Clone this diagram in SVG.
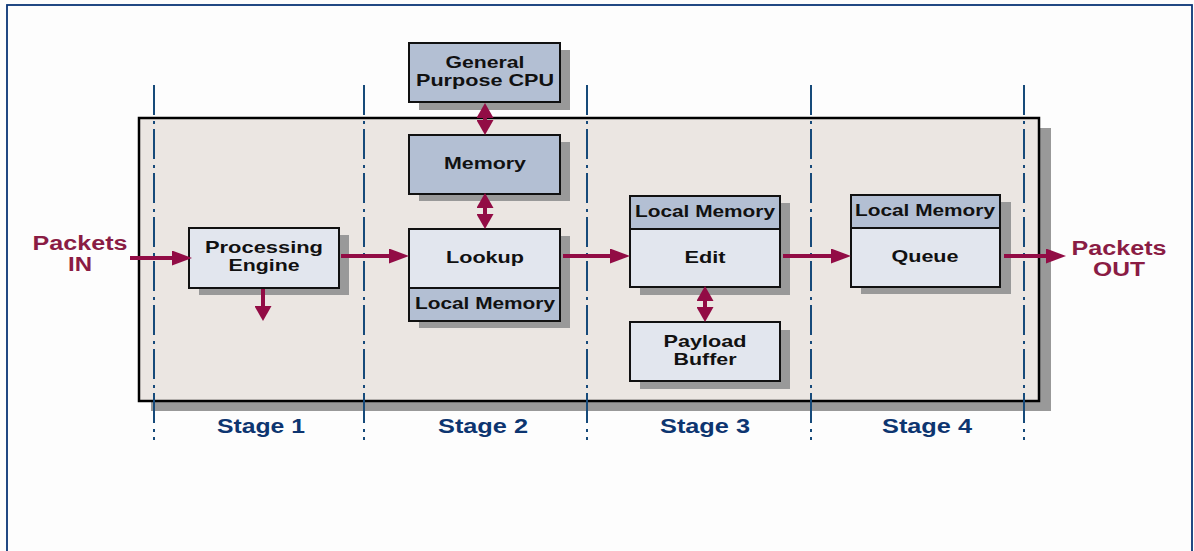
<svg xmlns="http://www.w3.org/2000/svg" width="1194" height="551" viewBox="0 0 1194 551">
<style>
text{font-family:"Liberation Sans",Arial,sans-serif;font-weight:bold;text-anchor:middle}
.t{font-size:17px;fill:#111}
.red{font-size:20px;fill:#8a1c44}
.stage{font-size:20.5px;fill:#0d3570}
.sh{fill:#999}
.lt{fill:#e2e6ee;stroke:#111;stroke-width:2}
.dk{fill:#b3bfd3;stroke:#111;stroke-width:2}
.div{stroke:#164a7a;stroke-width:2;stroke-dasharray:30 6 3 5;fill:none}
.c{stroke:#920c45;stroke-width:4;fill:none}
.h{marker-end:url(#ah)}
.v{marker-end:url(#av)}
.d{marker-start:url(#av);marker-end:url(#av)}
</style>
<defs>
<marker id="ah" viewBox="0 0 20 15" markerWidth="20" markerHeight="15" refX="0" refY="7.5" markerUnits="userSpaceOnUse" orient="auto-start-reverse"><path d="M0,0 L20,7.5 L0,15 z" fill="#920c45"/></marker>
<marker id="av" viewBox="0 0 15 17" markerWidth="15" markerHeight="17" refX="0" refY="8.5" markerUnits="userSpaceOnUse" orient="auto-start-reverse"><path d="M0,0 L15,8.5 L0,17 z" fill="#920c45"/></marker>
</defs>
<rect x="0" y="0" width="1194" height="551" fill="#fdfdfd"/>
<rect x="7" y="5" width="1185" height="570" fill="none" stroke="#0b3677" stroke-width="1.8"/>
<g id="pipeline">
<rect class="sh" x="151" y="128" width="900" height="283"/>
<rect x="139" y="118" width="900" height="283" fill="#ebe6e2" stroke="#000" stroke-width="2.5"/>
</g>
<g id="stage-dividers">
<line class="div" x1="154" y1="85" x2="154" y2="440"/>
<line class="div" x1="364" y1="85" x2="364" y2="440"/>
<line class="div" x1="587" y1="85" x2="587" y2="440"/>
<line class="div" x1="811" y1="85" x2="811" y2="440"/>
<line class="div" x1="1024" y1="85" x2="1024" y2="440"/>
</g>
<g id="stage-labels">
<text class="stage" x="261" y="433" textLength="88" lengthAdjust="spacingAndGlyphs">Stage 1</text>
<text class="stage" x="483" y="433" textLength="90" lengthAdjust="spacingAndGlyphs">Stage 2</text>
<text class="stage" x="705" y="433" textLength="90" lengthAdjust="spacingAndGlyphs">Stage 3</text>
<text class="stage" x="927" y="433" textLength="90" lengthAdjust="spacingAndGlyphs">Stage 4</text>
</g>
<g id="packets-in">
<text class="red" x="80" y="250" textLength="95" lengthAdjust="spacingAndGlyphs">Packets</text>
<text class="red" x="80" y="271" textLength="24" lengthAdjust="spacingAndGlyphs">IN</text>
</g>
<g id="packets-out">
<text class="red" x="1119" y="254.5" textLength="95" lengthAdjust="spacingAndGlyphs">Packets</text>
<text class="red" x="1119" y="275.5" textLength="52" lengthAdjust="spacingAndGlyphs">OUT</text>
</g>
<g id="processing-engine">
<rect class="sh" x="199" y="235" width="150" height="60"/>
<rect class="lt" x="189" y="228" width="150" height="60"/>
<text class="t" x="264" y="253" textLength="118" lengthAdjust="spacingAndGlyphs">Processing</text>
<text class="t" x="264" y="271" textLength="71" lengthAdjust="spacingAndGlyphs">Engine</text>
</g>
<g id="general-purpose-cpu">
<rect class="sh" x="419" y="50" width="151" height="60"/>
<rect class="dk" x="409" y="43" width="151" height="59"/>
<text class="t" x="485" y="68" textLength="79" lengthAdjust="spacingAndGlyphs">General</text>
<text class="t" x="485" y="86" textLength="138" lengthAdjust="spacingAndGlyphs">Purpose CPU</text>
</g>
<g id="memory">
<rect class="sh" x="419" y="142" width="151" height="59"/>
<rect class="dk" x="409" y="135" width="151" height="59"/>
<text class="t" x="485" y="169" textLength="82" lengthAdjust="spacingAndGlyphs">Memory</text>
</g>
<g id="lookup">
<rect class="sh" x="419" y="236" width="151" height="92"/>
<rect class="lt" x="409" y="229" width="151" height="59"/>
<rect class="dk" x="409" y="288" width="151" height="33"/>
<text class="t" x="485" y="262.5" textLength="78" lengthAdjust="spacingAndGlyphs">Lookup</text>
<text class="t" x="485" y="309" textLength="140" lengthAdjust="spacingAndGlyphs">Local Memory</text>
</g>
<g id="edit">
<rect class="sh" x="640" y="203" width="150" height="92"/>
<rect class="dk" x="630" y="196" width="150" height="33"/>
<rect class="lt" x="630" y="229" width="150" height="58"/>
<text class="t" x="705" y="216.5" textLength="140" lengthAdjust="spacingAndGlyphs">Local Memory</text>
<text class="t" x="705" y="262.5" textLength="41" lengthAdjust="spacingAndGlyphs">Edit</text>
</g>
<g id="payload-buffer">
<rect class="sh" x="640" y="330" width="150" height="59"/>
<rect class="lt" x="630" y="322" width="150" height="59"/>
<text class="t" x="705" y="347" textLength="83" lengthAdjust="spacingAndGlyphs">Payload</text>
<text class="t" x="705" y="365" textLength="63" lengthAdjust="spacingAndGlyphs">Buffer</text>
</g>
<g id="queue">
<rect class="sh" x="861" y="202" width="150" height="92"/>
<rect class="dk" x="851" y="195" width="149" height="33"/>
<rect class="lt" x="851" y="228" width="149" height="59"/>
<text class="t" x="925" y="216" textLength="140" lengthAdjust="spacingAndGlyphs">Local Memory</text>
<text class="t" x="925" y="262" textLength="67" lengthAdjust="spacingAndGlyphs">Queue</text>
</g>
<g id="connectors">
<line class="c h" x1="130" y1="258" x2="172" y2="258"/>
<line class="c h" x1="341" y1="256" x2="389" y2="256"/>
<line class="c h" x1="563" y1="256" x2="610" y2="256"/>
<line class="c h" x1="783" y1="256" x2="831" y2="256"/>
<line class="c h" x1="1004" y1="256" x2="1046" y2="256"/>
<line class="c v" x1="263" y1="289" x2="263" y2="306"/>
<line class="c d" x1="485" y1="118" x2="485" y2="120"/>
<line class="c d" x1="485" y1="208" x2="485" y2="214"/>
<line class="c d" x1="705" y1="301" x2="705" y2="307"/>
</g>
</svg>
